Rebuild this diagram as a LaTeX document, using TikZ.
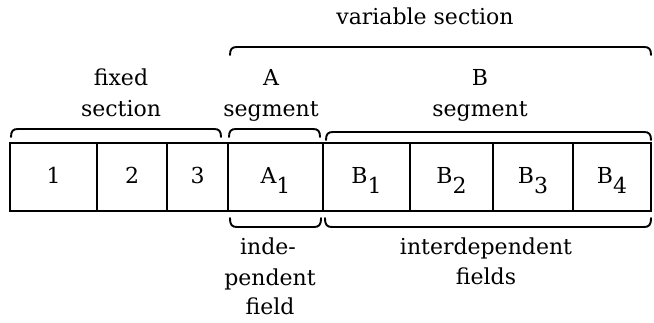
\documentclass[tikz,border=0pt]{standalone}
\usepackage{fontspec}
\setmainfont{DejaVu Serif}
\newcommand\subdig[1]{\raisebox{-10pt}{#1}}
\newcommand\bracketdown[3]{%
  \draw[bracket] (#1,#3+8) .. controls (#1,#3+2) and (#1+2,#3) .. (#1+7,#3) -- (#2-7,#3) .. controls (#2-2,#3) and (#2,#3+2) .. (#2,#3+8);}
\newcommand\bracketup[3]{%
  \draw[bracket] (#1,#3-9) .. controls (#1,#3-2) and (#1+2,#3) .. (#1+7,#3) -- (#2-7,#3) .. controls (#2-2,#3) and (#2,#3-2) .. (#2,#3-9);}
\begin{document}
\begin{tikzpicture}[x=1pt,y=-1pt,
  cell/.style={draw, line width=2.4pt, minimum height=68pt, inner sep=0pt,
    text height=24pt, text depth=10pt, font=\fontsize{22}{26}\selectfont},
  lbl/.style={anchor=base, inner sep=0pt, font=\fontsize{22}{26}\selectfont},
  bracket/.style={line width=1.9pt, line cap=round}]
\useasboundingbox (0,0) rectangle (654,323);
% cells
\node[cell, minimum width=87pt] (c1) at (53.5,177) {1};
\node[cell, minimum width=70pt] (c2) at (132,177) {2};
\node[cell, minimum width=61pt] (c3) at (197.5,177) {3};
\node[cell, minimum width=95pt] (a1) at (275.5,177) {A\subdig{1}};
\node[cell, minimum width=87pt] (b1) at (366.5,177) {B\subdig{1}};
\node[cell, minimum width=83pt] (b2) at (451.5,177) {B\subdig{2}};
\node[cell, minimum width=80pt] (b3) at (533,177) {B\subdig{3}};
\node[cell, minimum width=78pt] (b4) at (612,177) {B\subdig{4}};
% brackets
\bracketdown{230}{651}{47}
\bracketdown{11}{221}{129}
\bracketdown{229}{320}{129}
\bracketdown{326}{651}{132}
\bracketup{230}{321}{227}
\bracketup{325}{651}{227}
% labels
\node[lbl] (var) at (425,25) {variable section};
\node[lbl] (fx1) at (121,86) {fixed};
\node[lbl] (fx2) at (121,117) {section};
\node[lbl] (as1) at (271,86) {A};
\node[lbl] (as2) at (271,117) {segment};
\node[lbl] (bs1) at (480,86) {B};
\node[lbl] (bs2) at (480,117) {segment};
\node[lbl] (in1) at (268,255) {inde-};
\node[lbl] (in2) at (270,286) {pendent};
\node[lbl] (in3) at (270,315) {field};
\node[lbl] (id1) at (486,255) {interdependent};
\node[lbl] (id2) at (486,285) {fields};
\end{tikzpicture}
\end{document}
